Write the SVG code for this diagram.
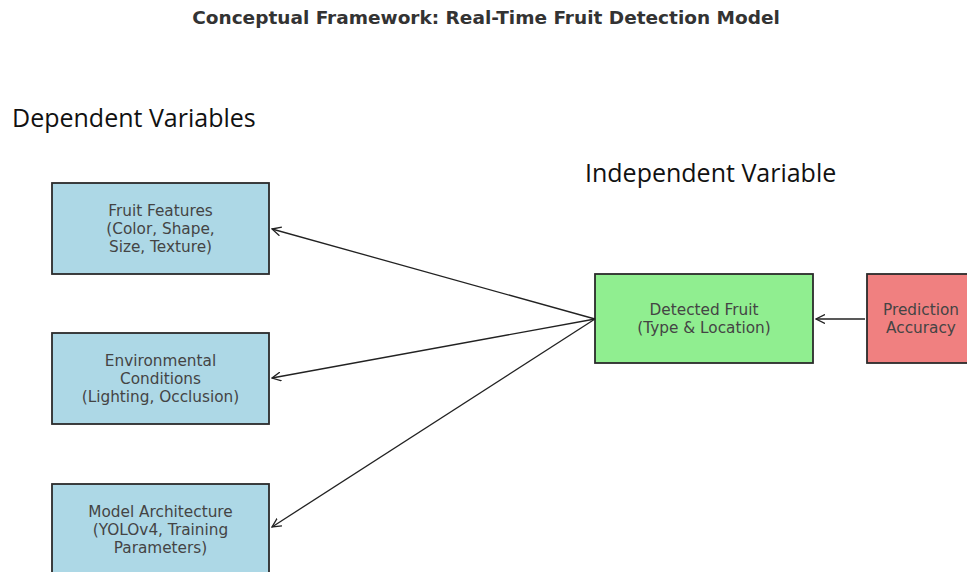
<svg xmlns="http://www.w3.org/2000/svg" width="967" height="572" viewBox="0 0 967 572">
<style>
.box{stroke:#2b2b2b;stroke-width:1.8}
.t{font-family:"DejaVu Sans",sans-serif;font-size:15.3px;fill:#444;text-anchor:middle}
.h{font-family:"Open Sans","Noto Sans",sans-serif;font-size:25px;fill:#111}
.c{stroke:#222;stroke-width:1.3;fill:none;marker-end:url(#ah)}
</style>
<defs>
<marker id="ah" viewBox="0 0 10 10" refX="9" refY="5" markerWidth="10" markerHeight="10" markerUnits="userSpaceOnUse" orient="auto">
<path d="M0,0.5 L9,5 L0,9.5" fill="none" stroke="#222" stroke-width="1.3"/>
</marker>
</defs>
<rect width="967" height="572" fill="#fff"/>
<text x="486" y="24" font-family="'DejaVu Sans',sans-serif" font-size="18.5" font-weight="bold" fill="#333" text-anchor="middle">Conceptual Framework: Real-Time Fruit Detection Model</text>
<text class="h" x="12" y="127">Dependent Variables</text>
<text class="h" x="585" y="182">Independent Variable</text>
<g id="fruit-features">
<rect class="box" x="52" y="183" width="217" height="91" fill="#add8e6"/>
<text class="t" x="160.5" y="215.5">Fruit Features</text>
<text class="t" x="160.5" y="233.5">(Color, Shape,</text>
<text class="t" x="160.5" y="251.5">Size, Texture)</text>
</g>
<g id="environmental-conditions">
<rect class="box" x="52" y="333" width="217" height="91" fill="#add8e6"/>
<text class="t" x="160.5" y="365.5">Environmental</text>
<text class="t" x="160.5" y="383.5">Conditions</text>
<text class="t" x="160.5" y="401.5">(Lighting, Occlusion)</text>
</g>
<g id="model-architecture">
<rect class="box" x="52" y="484" width="217" height="100" fill="#add8e6"/>
<text class="t" x="160.5" y="516.5">Model Architecture</text>
<text class="t" x="160.5" y="534.5">(YOLOv4, Training</text>
<text class="t" x="160.5" y="552.5">Parameters)</text>
</g>
<g id="detected-fruit">
<rect class="box" x="595" y="274" width="218" height="89" fill="#90ee90"/>
<text class="t" x="704" y="314.5">Detected Fruit</text>
<text class="t" x="704" y="332.5">(Type &amp; Location)</text>
</g>
<g id="prediction-accuracy">
<rect class="box" x="867" y="274" width="110" height="89" fill="#f08080"/>
<text class="t" x="921" y="314.5">Prediction</text>
<text class="t" x="921" y="332.5">Accuracy</text>
</g>
<g id="connectors">
<line class="c" x1="595" y1="319" x2="272" y2="229"/>
<line class="c" x1="595" y1="319" x2="272" y2="378"/>
<line class="c" x1="595" y1="319" x2="272" y2="527"/>
<line class="c" x1="865" y1="319" x2="816" y2="319"/>
</g>
</svg>
